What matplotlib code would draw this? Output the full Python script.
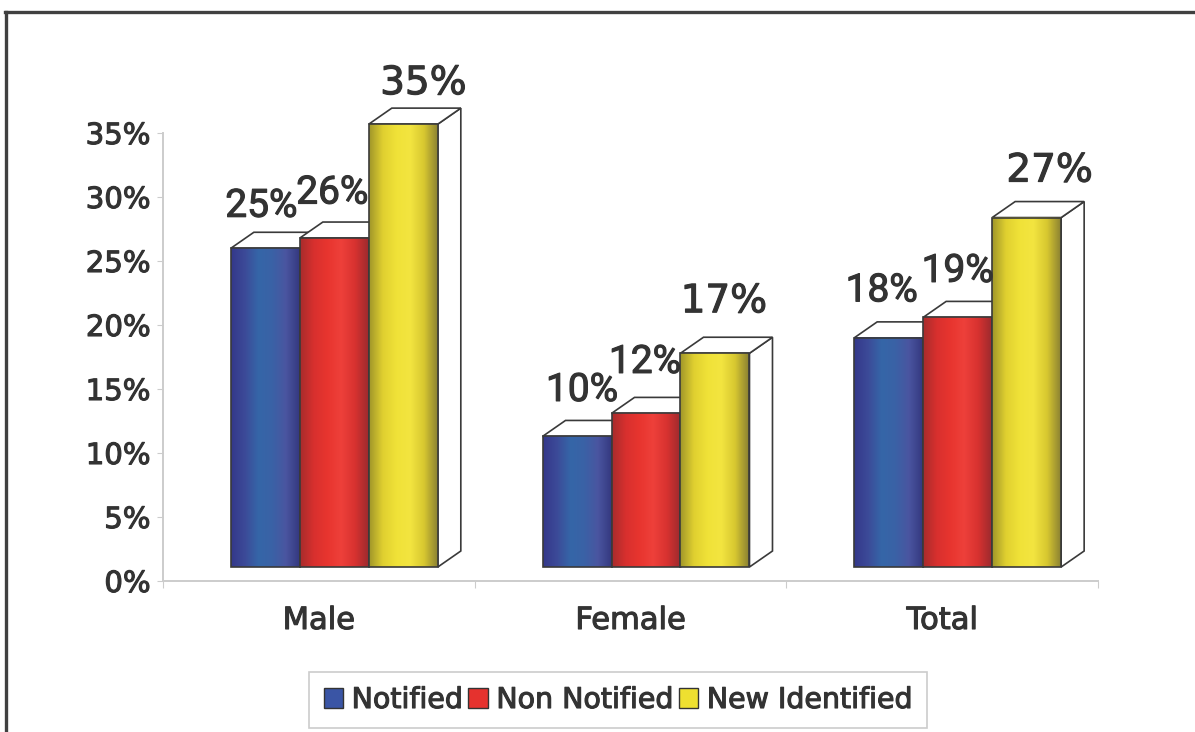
import numpy as np
import matplotlib
matplotlib.use("Agg")
import matplotlib.pyplot as plt
import matplotlib.patheffects as pe
from matplotlib.lines import Line2D
from matplotlib.patches import Patch, Polygon
from matplotlib.colors import LinearSegmentedColormap

categories = ["Male", "Female", "Total"]
series_names = ["Notified", "Non Notified", "New Identified"]

notified = [24.9, 10.2, 17.9]
non_notified = [25.7, 12.0, 19.5]
new_identified = [34.6, 16.7, 27.3]

notified_labels = ["25%", "10%", "18%"]
non_notified_labels = ["26%", "12%", "19%"]
new_identified_labels = ["35%", "17%", "27%"]

y_ticks = [0, 5, 10, 15, 20, 25, 30, 35]

# label offsets from the bar top in pixels
notified_off = [(-4, 42), (5, 46), (-7, 47)]
non_notified_off = [(-2, 45), (-1, 51), (0, 46)]
new_identified_off = [(20, 41), (9, 52), (23, 47)]

blue_grad = ["#34388a", "#3c4a98", "#3566a8", "#3a62a6", "#4a55a0", "#34387f"]
red_grad = ["#a82c2c", "#d8302e", "#e8352f", "#ee403a", "#d83230", "#9c2a2e"]
yellow_grad = ["#a0962a", "#e0d030", "#f0e238", "#f3e540", "#d8c830", "#8c8232"]

W, H = 1195, 732
fig = plt.figure(figsize=(W / 100, H / 100), dpi=100)
ax = fig.add_axes([163 / W, 1 - 581 / H, (1098 - 163) / W, (581 - 133) / H])

TEXT = "#333333"
FONT = "DejaVu Sans"
bar_w = 69 / 311.7
group_shift = 15.5 / 311.7
base = 14 / 12.8
dx = 23 / 311.7
dy = 16 / 12.8
EDGE = "#3a3a3a"
# the reference text is a bit heavier than the regular weight
thick = [pe.withStroke(linewidth=0.8, foreground=TEXT)]


def px(points):
    return points * 0.72


rows = [
    (notified, notified_labels, notified_off, blue_grad, -1, "Roboto", 28),
    (non_notified, non_notified_labels, non_notified_off, red_grad, 0, "Roboto", 28),
    (new_identified, new_identified_labels, new_identified_off, yellow_grad, 1, FONT, 28),
]

for i in range(len(categories)):
    for vals, labs, offs, grad, pos, fam, size in rows:
        x0 = i + group_shift + pos * bar_w - bar_w / 2
        x1 = x0 + bar_w
        top = base + vals[i]
        z = 3 + pos
        # white side and top faces
        ax.add_patch(Polygon([(x1, base), (x1 + dx, base + dy), (x1 + dx, top + dy), (x1, top)],
                             facecolor="white", edgecolor=EDGE, lw=1.2, zorder=z, clip_on=False))
        ax.add_patch(Polygon([(x0, top), (x0 + dx, top + dy), (x1 + dx, top + dy), (x1, top)],
                             facecolor="white", edgecolor=EDGE, lw=1.2, zorder=z, clip_on=False))
        cmap = LinearSegmentedColormap.from_list("g", grad)
        ax.imshow(np.linspace(0, 1, 128)[None, :], cmap=cmap, aspect="auto",
                  extent=[x0, x1, base, top], zorder=z + 0.1, clip_on=False)
        ax.bar(x0, vals[i], width=bar_w, bottom=base, align="edge", facecolor="none",
               edgecolor=EDGE, linewidth=1.2, zorder=z + 0.2, clip_on=False)
        ax.annotate(labs[i], xy=(x0 + bar_w / 2, top), xytext=(px(offs[i][0]), px(offs[i][1])),
                    textcoords="offset points", ha="center", va="center", color=TEXT,
                    family=fam, fontsize=size, zorder=10, annotation_clip=False,
                    path_effects=thick)

ax.set_xlim(-0.5, 2.5)
ax.set_ylim(0, 35)
ax.patch.set_alpha(0)

for s in ["top", "right"]:
    ax.spines[s].set_visible(False)
for s in ["left", "bottom"]:
    ax.spines[s].set_color("#cccccc")
    ax.spines[s].set_linewidth(1.4)

ax.set_yticks(y_ticks)
ax.set_yticklabels([str(v) + "%" for v in y_ticks], family=FONT, fontsize=21, color=TEXT,
                   path_effects=thick)
ax.tick_params(axis="y", length=4, color="#cccccc", pad=5)
ax.set_xticks([-0.5, 0.5, 1.5, 2.5])
ax.set_xticklabels([])
ax.set_xticks([0, 1, 2], minor=True)
ax.set_xticklabels(categories, minor=True, family=FONT, fontsize=22, color=TEXT,
                   path_effects=thick)
ax.tick_params(axis="x", which="major", length=5, color="#cccccc")
ax.tick_params(axis="x", which="minor", length=0, pad=18)

handles = [Patch(facecolor=c, edgecolor="#333333") for c in ["#3a55a5", "#e5322e", "#eee030"]]
leg = ax.legend(handles, series_names, ncol=3, loc="center",
                bbox_to_anchor=(618 / W, 1 - 700 / H), bbox_transform=fig.transFigure,
                prop={"family": FONT, "size": 20.5}, labelcolor=TEXT, fancybox=False,
                edgecolor="#cccccc", framealpha=1, handlelength=0.68, handleheight=0.68,
                handletextpad=0.3, columnspacing=0.2, borderpad=0.5, borderaxespad=0)
leg.get_frame().set_linewidth(1.2)
for t in leg.get_texts():
    t.set_path_effects(thick)

# picture frame
fig.add_artist(Line2D([6.5 / W, 6.5 / W], [0, 1 - 11.5 / H], color="#404040", lw=2.4))
fig.add_artist(Line2D([5 / W, 1], [1 - 11.5 / H, 1 - 11.5 / H], color="#404040", lw=2.4))

plt.savefig("out.png", dpi=100)
